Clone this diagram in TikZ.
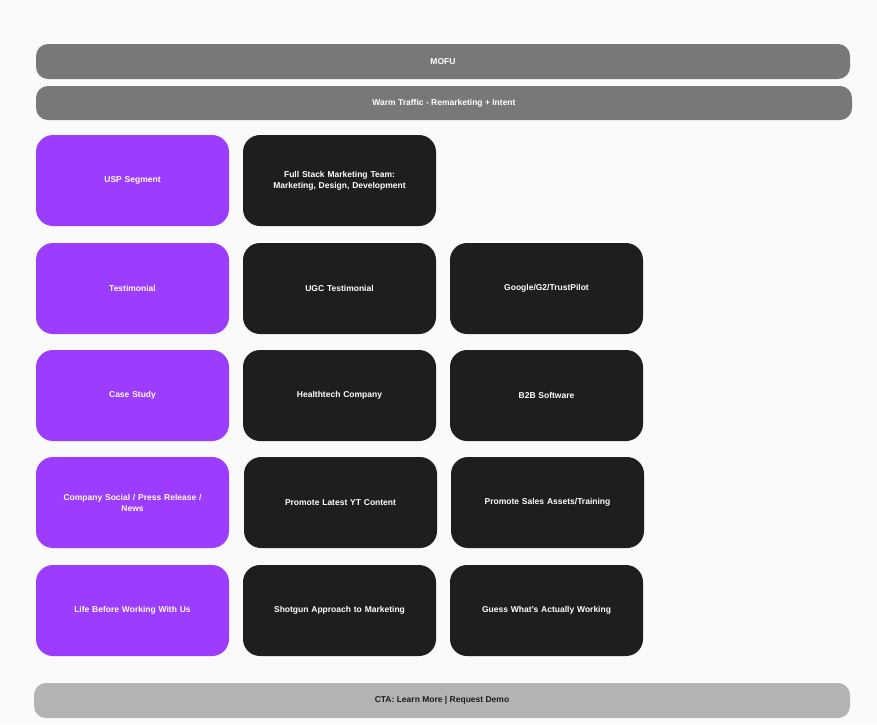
\documentclass[tikz,border=0pt]{standalone}
\usepackage{fontspec}
\setmainfont{Liberation Sans}
\definecolor{bg}{HTML}{FAFAFA}
\definecolor{barg}{HTML}{787878}
\definecolor{ctag}{HTML}{B3B3B3}
\definecolor{purp}{HTML}{9B3CFF}
\definecolor{blk}{HTML}{1E1E1E}
\begin{document}
\begin{tikzpicture}[x=1pt,y=-1pt,
  box/.style={rounded corners=17pt,text=white,font=\bfseries\fontsize{8.5}{11}\selectfont,align=center,inner sep=0pt},
  bar/.style={rounded corners=12pt,font=\bfseries\fontsize{8.5}{10}\selectfont,inner sep=0pt}]
\fill[bg] (0,0) rectangle (877,724);
\useasboundingbox (0,0) rectangle (877,724);
\newcommand{\bx}[7]{\node[box,fill=#6,minimum width=#3-#1,minimum height=#4-#2,text width=#3-#1-8] (#7) at ({(#1+#3)/2},{(#2+#4)/2}) {#5};}
\node[bar,fill=barg,text=white,minimum width=814,minimum height=35] (mofu) at (443,61.5) {MOFU};
\node[bar,fill=barg,text=white,minimum width=816,minimum height=34] (warm) at (444,103) {Warm Traffic - Remarketing + Intent};
\node[bar,fill=ctag,text=blk,minimum width=816,minimum height=35] (cta) at (442,700.5) {CTA: Learn More | Request Demo};
\bx{36}{135}{229}{226}{USP Segment}{purp}{a1}
\bx{243}{135}{436}{226}{Full Stack Marketing Team:\\Marketing, Design, Development}{blk}{a2}
\bx{36}{243}{229}{334}{Testimonial}{purp}{b1}
\bx{243}{243}{436}{334}{UGC Testimonial}{blk}{b2}
\bx{450}{243}{643}{334}{Google/G2/TrustPilot}{blk}{b3}
\bx{36}{350}{229}{441}{Case Study}{purp}{c1}
\bx{243}{350}{436}{441}{Healthtech Company}{blk}{c2}
\bx{450}{350}{643}{441}{B2B Software}{blk}{c3}
\bx{36}{457}{229}{548}{Company Social / Press Release /\\News}{purp}{d1}
\bx{244}{457}{437}{548}{Promote Latest YT Content}{blk}{d2}
\bx{451}{457}{644}{548}{Promote Sales Assets/Training}{blk}{d3}
\bx{36}{565}{229}{656}{Life Before Working With Us}{purp}{e1}
\bx{243}{565}{436}{656}{Shotgun Approach to Marketing}{blk}{e2}
\bx{450}{565}{643}{656}{Guess What's Actually Working}{blk}{e3}
\end{tikzpicture}
\end{document}
